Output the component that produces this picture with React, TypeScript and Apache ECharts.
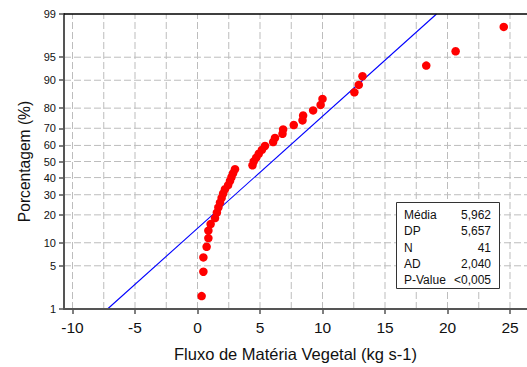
import React, { useEffect, useRef } from 'react';
import * as echarts from 'echarts';

const xValues = [
  0.33, 0.47, 0.47, 0.73, 0.87, 0.87, 1.05, 1.4, 1.55, 1.67, 1.8, 1.93, 2.05, 2.2,
  2.45, 2.6, 2.72, 2.85, 3.0, 4.4, 4.5, 4.7, 4.9, 5.15, 5.4, 6.05, 6.2, 6.8, 6.85,
  7.7, 8.4, 8.45, 9.25, 9.85, 10.0, 12.55, 12.9, 13.2, 18.3, 20.65, 24.5,
];
const yTickPercents = [1, 5, 10, 20, 30, 40, 50, 60, 70, 80, 90, 95, 99];
const yGridPercents = [5, 10, 20, 30, 40, 50, 60, 70, 80, 90, 95];
const xTickValues = [-10, -5, 0, 5, 10, 15, 20, 25];
const xGridValues = [-10, -7.5, -5, -2.5, 0, 2.5, 5, 7.5, 10, 12.5, 15, 17.5, 20, 22.5, 25];
const statLabels = ['Média', 'DP', 'N', 'AD', 'P-Value'];
const statValues = ['5,962', '5,657', '41', '2,040', '<0,005'];
const fitMean = 5.962;
const fitSd = 5.657;
const fitPercents = [1, 99];

// inverse standard normal CDF (Acklam)
function normInv(p: number): number {
  const a = [-3.969683028665376e1, 2.209460984245205e2, -2.759285104469687e2, 1.38357751867269e2, -3.066479806614716e1, 2.506628277459239];
  const b = [-5.447609879822406e1, 1.615858368580409e2, -1.556989798598866e2, 6.680131188771972e1, -1.328068155288572e1];
  const c = [-7.784894002430293e-3, -3.223964580411365e-1, -2.400758277161838, -2.549732539343734, 4.374664141464968, 2.938163982698783];
  const d = [7.784695709041462e-3, 3.224671290700398e-1, 2.445134137142996, 3.754408661907416];
  const pl = 0.02425;
  let q: number, r: number;
  if (p < pl) {
    q = Math.sqrt(-2 * Math.log(p));
    return (((((c[0] * q + c[1]) * q + c[2]) * q + c[3]) * q + c[4]) * q + c[5]) / ((((d[0] * q + d[1]) * q + d[2]) * q + d[3]) * q + 1);
  } else if (p <= 1 - pl) {
    q = p - 0.5;
    r = q * q;
    return (((((a[0] * r + a[1]) * r + a[2]) * r + a[3]) * r + a[4]) * r + a[5]) * q / (((((b[0] * r + b[1]) * r + b[2]) * r + b[3]) * r + b[4]) * r + 1);
  } else {
    q = Math.sqrt(-2 * Math.log(1 - p));
    return -(((((c[0] * q + c[1]) * q + c[2]) * q + c[3]) * q + c[4]) * q + c[5]) / ((((d[0] * q + d[1]) * q + d[2]) * q + d[3]) * q + 1);
  }
}

export default function App() {
  const ref = useRef<HTMLDivElement>(null);
  useEffect(() => {
    if (!ref.current) return;
    const chart = echarts.init(ref.current, null, { renderer: 'svg' });
    const n = xValues.length;
    const points = xValues.map((x, i) => [x, normInv((i + 1 - 0.3) / (n + 0.4))]);
    const fitLine = fitPercents.map((p) => {
      const z = normInv(p / 100);
      return [fitMean + fitSd * z, z];
    });
    const yTickZ = yTickPercents.map((p) => normInv(p / 100));
    const zMin = yTickZ[0];
    const zMax = yTickZ[yTickZ.length - 1];
    const xMin = -10.68;
    const xMax = 26.36;
    const gridColor = '#bdbdbd';
    const font = 'Liberation Sans, Arial, sans-serif';

    const gridStyle = { stroke: gridColor, lineWidth: 1, lineDash: [7, 3], fill: 'none' };
    const vGridData = xGridValues.map((v) => [v, 0]);
    const hGridData = yGridPercents.map((p) => [0, normInv(p / 100)]);

    const boxLeft = 396;
    const boxTop = 202;
    const rowH = 16.3;
    const graphics: any[] = [
      {
        type: 'rect',
        shape: { x: boxLeft + 0.5, y: boxTop + 0.5, width: 103, height: 86 },
        style: { fill: '#fff', stroke: '#333', lineWidth: 1 },
        z: 100,
      },
    ];
    statLabels.forEach((lab, i) => {
      graphics.push({
        type: 'text',
        x: boxLeft + 8,
        y: boxTop + 13 + i * rowH,
        style: { text: lab, fill: '#111', font: `12px ${font}`, textVerticalAlign: 'middle', textAlign: 'left' },
        z: 101,
      });
      graphics.push({
        type: 'text',
        x: boxLeft + 95,
        y: boxTop + 13 + i * rowH,
        style: { text: statValues[i], fill: '#111', font: `12px ${font}`, textVerticalAlign: 'middle', textAlign: 'right' },
        z: 101,
      });
    });

    chart.setOption({
      animation: false,
      backgroundColor: '#fff',
      grid: { left: 64, right: 0, top: 14, bottom: 56 },
      xAxis: [
        {
          type: 'value',
          min: xMin,
          max: xMax,
          name: 'Fluxo de Matéria Vegetal (kg s-1)',
          nameLocation: 'middle',
          nameGap: 36,
          nameTextStyle: { fontSize: 16.5, color: '#111', fontFamily: font },
          axisLine: { show: true, onZero: false, lineStyle: { color: '#555', width: 2 } },
          axisTick: { show: true, inside: false, length: 5, customValues: xTickValues, lineStyle: { color: '#555', width: 1.5 } },
          axisLabel: { customValues: xTickValues, fontSize: 15.5, color: '#111', fontFamily: font, margin: 10 },
          splitLine: { show: false },
          z: 10,
        },
        {
          type: 'value',
          position: 'top',
          min: xMin,
          max: xMax,
          axisLine: { show: true, onZero: false, lineStyle: { color: '#000', width: 1.5 } },
          axisTick: { show: false },
          axisLabel: { show: false },
          splitLine: { show: false },
          z: 10,
        },
      ],
      yAxis: {
        type: 'value',
        min: zMin,
        max: zMax,
        name: 'Porcentagem (%)',
        nameLocation: 'middle',
        nameGap: 32,
        nameRotate: 90,
        nameTextStyle: { fontSize: 15.6, color: '#111', fontFamily: font },
        axisLine: { show: true, onZero: false, lineStyle: { color: '#555', width: 2 } },
        axisTick: { show: true, inside: false, length: 5, customValues: yTickZ, lineStyle: { color: '#555', width: 1.5 } },
        axisLabel: {
          customValues: yTickZ,
          fontSize: 11,
          color: '#111',
          fontFamily: font,
          margin: 8,
          formatter: (v: number) => {
            let best = 0;
            yTickZ.forEach((z, i) => {
              if (Math.abs(z - v) < Math.abs(yTickZ[best] - v)) best = i;
            });
            return String(yTickPercents[best]);
          },
        },
        splitLine: { show: false },
        z: 10,
      },
      series: [
        {
          type: 'custom',
          data: vGridData,
          silent: true,
          z: 1,
          clip: true,
          renderItem: (params: any, api: any) => {
            const v = api.value(0);
            const p1 = api.coord([v, zMin]);
            const p2 = api.coord([v, zMax]);
            return { type: 'line', shape: { x1: p1[0], y1: p1[1], x2: p2[0], y2: p2[1] }, style: gridStyle };
          },
        },
        {
          type: 'custom',
          data: hGridData,
          silent: true,
          z: 1,
          clip: true,
          renderItem: (params: any, api: any) => {
            const z = api.value(1);
            const p1 = api.coord([xMin, z]);
            const p2 = api.coord([xMax, z]);
            return { type: 'line', shape: { x1: p1[0], y1: p1[1], x2: p2[0], y2: p2[1] }, style: gridStyle };
          },
        },
        {
          type: 'line',
          data: fitLine,
          symbol: 'none',
          lineStyle: { color: '#0000ff', width: 1.1 },
          clip: true,
          z: 3,
        },
        {
          type: 'scatter',
          data: points,
          symbol: 'circle',
          symbolSize: 8.5,
          itemStyle: { color: '#ff0000', opacity: 1 },
          z: 4,
        },
      ],
      graphic: graphics,
    });
    return () => chart.dispose();
  }, []);
  return <div ref={ref} style={{ width: 527, height: 367, position: 'absolute', left: 0, top: 0 }} />;
}
